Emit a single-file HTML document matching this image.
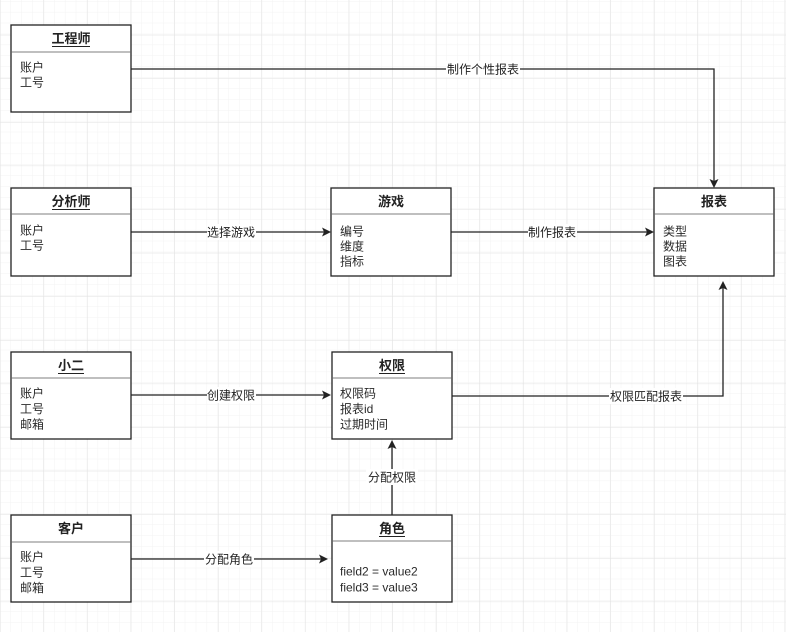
<!DOCTYPE html>
<html><head><meta charset="utf-8"><style>
html,body{margin:0;padding:0;background:#fff;}
svg{display:block;}
text{font-family:"Liberation Sans","Noto Sans CJK SC",sans-serif;}
</style></head><body>
<svg width="786" height="632" viewBox="0 0 786 632" xmlns="http://www.w3.org/2000/svg">
<defs>
<pattern id="minor" width="10.9" height="10.9" patternUnits="userSpaceOnUse" x="0" y="1.5">
<path d="M10.9 0V10.9M0 10.9H10.9" fill="none" stroke="#f3f3f3" stroke-width="1"/>
</pattern>
<pattern id="major" width="43.6" height="43.6" patternUnits="userSpaceOnUse" x="0" y="-8.8">
<path d="M0 0V43.6M0 0H43.6" fill="none" stroke="#e2e2e2" stroke-width="1"/>
</pattern>
</defs>
<rect width="786" height="632" fill="#fff"/>
<rect width="786" height="632" fill="url(#minor)"/>
<rect width="786" height="632" fill="url(#major)"/>

<!-- connectors -->
<g stroke="#222" stroke-width="1.3" fill="none">
<path d="M131 69H714V181"/>
<path d="M131 232H324"/>
<path d="M451 232H647"/>
<path d="M131 395H324"/>
<path d="M452 396H723V283"/>
<path d="M131 559H321"/>
<path d="M392 515V447"/>
</g>
<g fill="#222">
<path d="M714 188l-4.5-9 4.5 2 4.5-2z"/>
<path d="M331 232l-9-4.5 2 4.5-2 4.5z"/>
<path d="M654 232l-9-4.5 2 4.5-2 4.5z"/>
<path d="M331 395l-9-4.5 2 4.5-2 4.5z"/>
<path d="M723 281l-4.5 9 4.5-2 4.5 2z"/>
<path d="M328 559l-9-4.5 2 4.5-2 4.5z"/>
<path d="M392 440l-4.5 9 4.5-2 4.5 2z"/>
</g>

<!-- connector labels -->
<g font-size="12" fill="#222" text-anchor="middle">
<rect x="446" y="61" width="74" height="16" fill="#fff"/>
<text x="483" y="73.5">制作个性报表</text>
<rect x="207" y="224" width="49" height="16" fill="#fff"/>
<text x="231" y="236.5">选择游戏</text>
<rect x="528" y="224" width="49" height="16" fill="#fff"/>
<text x="552" y="236.5">制作报表</text>
<rect x="207" y="387" width="49" height="16" fill="#fff"/>
<text x="231" y="399.5">创建权限</text>
<rect x="609" y="388" width="74" height="16" fill="#fff"/>
<text x="646" y="400.5">权限匹配报表</text>
<rect x="204" y="551" width="50" height="16" fill="#fff"/>
<text x="229" y="563.5">分配角色</text>
<rect x="366" y="469" width="52" height="16" fill="#fff"/>
<text x="392" y="481.5">分配权限</text>
</g>

<!-- boxes -->
<g stroke="#222" stroke-width="1.3" fill="#fff">
<rect x="11" y="25" width="120" height="87"/>
<rect x="11" y="188" width="120" height="88"/>
<rect x="11" y="352" width="120" height="87"/>
<rect x="11" y="515" width="120" height="87"/>
<rect x="331" y="188" width="120" height="88"/>
<rect x="654" y="188" width="120" height="88"/>
<rect x="332" y="352" width="120" height="87"/>
<rect x="332" y="515" width="120" height="87"/>
</g>
<g stroke="#aaa" stroke-width="1.5">
<path d="M11.7 52H130.3"/>
<path d="M11.7 214H130.3"/>
<path d="M11.7 378H130.3"/>
<path d="M11.7 542H130.3"/>
<path d="M331.7 214H450.3"/>
<path d="M654.7 214H773.3"/>
<path d="M332.7 378H451.3"/>
<path d="M332.7 541H451.3"/>
</g>

<!-- headers -->
<g font-size="13" font-weight="bold" fill="#222" text-anchor="middle">
<text x="71" y="43">工程师</text>
<text x="71" y="206">分析师</text>
<text x="71" y="370">小二</text>
<text x="71" y="533">客户</text>
<text x="391" y="206">游戏</text>
<text x="714" y="206">报表</text>
<text x="392" y="370">权限</text>
<text x="392" y="533">角色</text>
</g>
<g stroke="#222" stroke-width="1">
<path d="M52 46.5H90"/>
<path d="M52 209.5H90"/>
<path d="M58 373.5H84"/>
<path d="M379 373.5H405"/>
<path d="M379 536.5H405"/>
</g>

<!-- body text -->
<g font-size="12" fill="#2a2a2a">
<text x="20" y="71.5">账户</text>
<text x="20" y="86.5">工号</text>
<text x="20" y="234.5">账户</text>
<text x="20" y="249.5">工号</text>
<text x="20" y="397.5">账户</text>
<text x="20" y="413">工号</text>
<text x="20" y="428.5">邮箱</text>
<text x="20" y="561">账户</text>
<text x="20" y="576.5">工号</text>
<text x="20" y="592">邮箱</text>
<text x="340" y="235.5">编号</text>
<text x="340" y="250.5">维度</text>
<text x="340" y="265.5">指标</text>
<text x="663" y="235.5">类型</text>
<text x="663" y="250.5">数据</text>
<text x="663" y="265.5">图表</text>
<text x="340" y="397.5">权限码</text>
<text x="340" y="413">报表id</text>
<text x="340" y="428.5">过期时间</text>
<text x="340" y="575.5">field2 = value2</text>
<text x="340" y="591.5">field3 = value3</text>
</g>
</svg>
</body></html>
